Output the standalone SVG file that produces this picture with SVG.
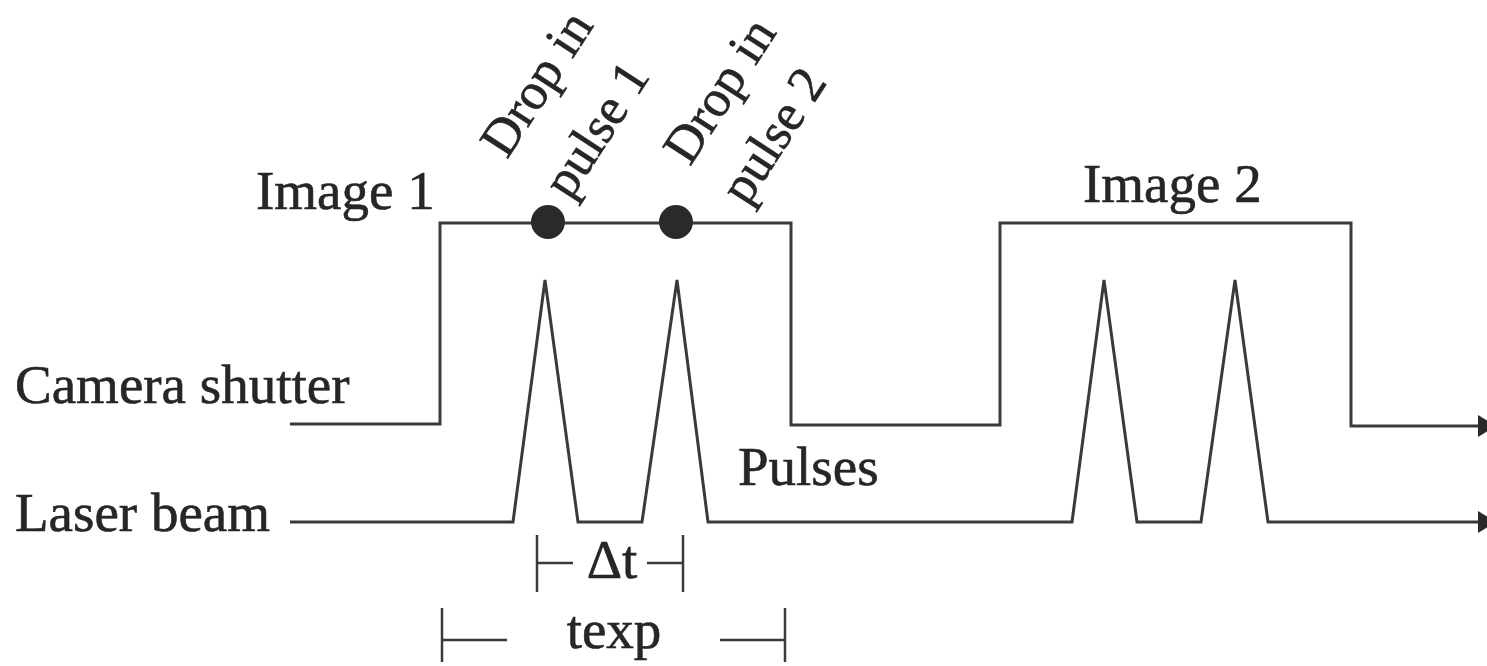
<svg xmlns="http://www.w3.org/2000/svg" width="1487" height="666" viewBox="0 0 1487 666">
<style>
.t{font-family:"Liberation Serif","DejaVu Serif",serif;font-size:55px;fill:#262626;stroke:#262626;stroke-width:0.6}
.r{font-size:52px}
.ln{fill:none;stroke:#3a3a3a;stroke-width:3;stroke-linejoin:miter}
.dim{fill:none;stroke:#3a3a3a;stroke-width:2.5}
</style>
<defs>
<marker id="arr" viewBox="0 0 18 22" refX="18" refY="11" markerWidth="18" markerHeight="22" markerUnits="userSpaceOnUse" orient="auto">
<path d="M0,0 L18,11 L0,22 Z" fill="#2a2a2a"/>
</marker>
</defs>
<rect width="1487" height="666" fill="#ffffff"/>
<g id="connectors">
<polyline id="shutter" class="ln" marker-end="url(#arr)" points="290,424 440,424 440,223 791,223 791,425 1000,425 1000,223 1351,223 1351,426 1496,426"/>
<polyline id="laser" class="ln" marker-end="url(#arr)" points="290,522 513,522 545,280 578,522 642,522 677,280 708,522 1072,522 1104,280 1137,522 1201,522 1235,280 1268,522 1496,522"/>
</g>
<g id="drop1"><circle cx="548" cy="222" r="17" fill="#2a2a2a"/></g>
<g id="drop2"><circle cx="676" cy="222" r="17" fill="#2a2a2a"/></g>
<g id="label-camera"><text class="t" x="15" y="403">Camera shutter</text></g>
<g id="label-laser"><text class="t" x="15" y="531">Laser beam</text></g>
<g id="label-image1"><text class="t" x="256" y="209">Image 1</text></g>
<g id="label-image2"><text class="t" x="1083" y="202">Image 2</text></g>
<g id="label-pulses"><text class="t" x="738" y="485">Pulses</text></g>
<g id="label-drop1">
<text class="t r" transform="translate(507,160) rotate(-57)">Drop in</text>
<text class="t r" transform="translate(570,201) rotate(-57)">pulse 1</text>
</g>
<g id="label-drop2">
<text class="t r" transform="translate(690,167) rotate(-57)">Drop in</text>
<text class="t r" transform="translate(747,207) rotate(-57)">pulse 2</text>
</g>
<g id="dim-dt">
<path class="dim" d="M537,535 V592 M683,535 V592 M537,563 H573 M647,563 H683"/>
<text class="t" x="612" y="578" text-anchor="middle">Δt</text>
</g>
<g id="dim-texp">
<path class="dim" d="M442,608 V662 M785,608 V662 M442,640 H507 M720,640 H785"/>
<text class="t" x="614" y="648" text-anchor="middle">texp</text>
</g>
</svg>
